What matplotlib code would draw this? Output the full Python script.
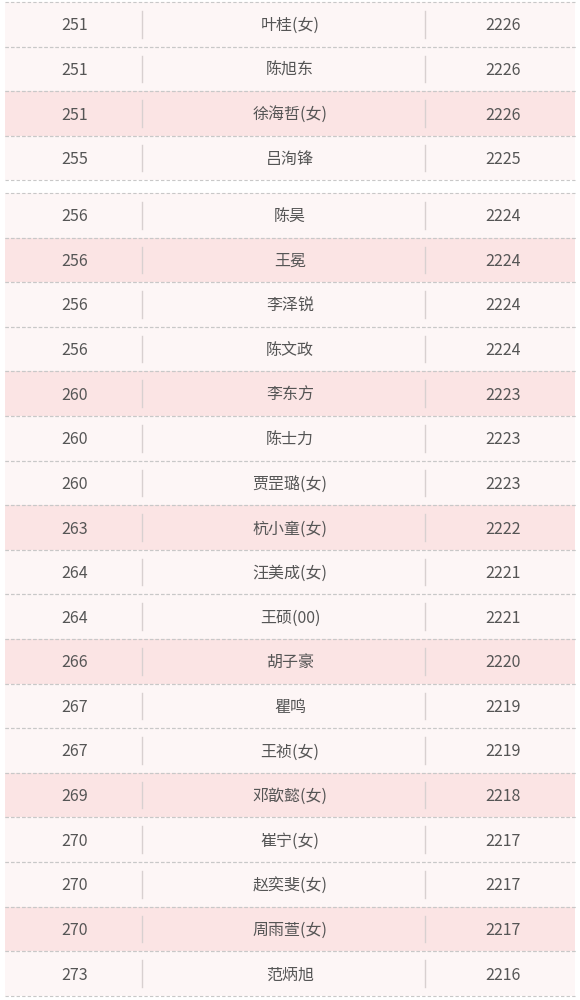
import matplotlib
matplotlib.use("Agg")
import matplotlib.pyplot as plt
from matplotlib.patches import Rectangle

plt.rcParams['font.family'] = ['Noto Sans CJK SC', 'DejaVu Sans']

ranks = [251, 251, 251, 255, 256, 256, 256, 256, 260, 260, 260, 263, 264, 264, 266, 267, 267, 269, 270, 270, 270, 273]
names = ["叶桂(女)", "陈旭东", "徐海哲(女)", "吕洵锋", "陈昊", "王冕", "李泽锐", "陈文政", "李东方", "陈士力",
         "贾罡璐(女)", "杭小童(女)", "汪美成(女)", "王硕(00)", "胡子豪", "瞿鸣", "王祯(女)", "邓歆懿(女)",
         "崔宁(女)", "赵奕斐(女)", "周雨萱(女)", "范炳旭"]
scores = [2226, 2226, 2226, 2225, 2224, 2224, 2224, 2224, 2223, 2223, 2223, 2222, 2221, 2221, 2220, 2219, 2219,
          2218, 2217, 2217, 2217, 2216]
highlight = [2, 5, 8, 11, 14, 17, 20]

W, H = 580, 1000
fig = plt.figure(figsize=(W/100, H/100), dpi=100)
ax = fig.add_axes([0, 0, 1, 1])
ax.set_xlim(0, W)
ax.set_ylim(H, 0)
ax.axis('off')

rh = 44.6
x0, x1 = 5, 575
col_x = [75, 290, 503]
div_x = [142, 425]

def row_top(i):
    if i < 4:
        return 2 + i * rh
    return 193 + (i - 4) * rh

for i in range(len(ranks)):
    top = row_top(i)
    col = '#fbe4e4' if i in highlight else '#fdf6f6'
    ax.add_patch(Rectangle((x0, top), x1 - x0, rh, facecolor=col, edgecolor='none'))
    ax.plot([x0, x1], [top, top], color='#c8c8c8', lw=0.8, ls=(0, (3, 2)))
    ax.plot([x0, x1], [top + rh, top + rh], color='#c8c8c8', lw=0.8, ls=(0, (3, 2)))
    for dx in div_x:
        ax.plot([dx, dx], [top + 9, top + rh - 9], color='#d8d0d0', lw=1)
    cy = top + rh / 2 + 1.5
    for cx, t in zip(col_x, [str(ranks[i]), names[i], str(scores[i])]):
        ax.text(cx, cy, t, ha='center', va='center', fontsize=11.5, color='#555555')

fig.savefig('out.png', dpi=100, facecolor='white')
